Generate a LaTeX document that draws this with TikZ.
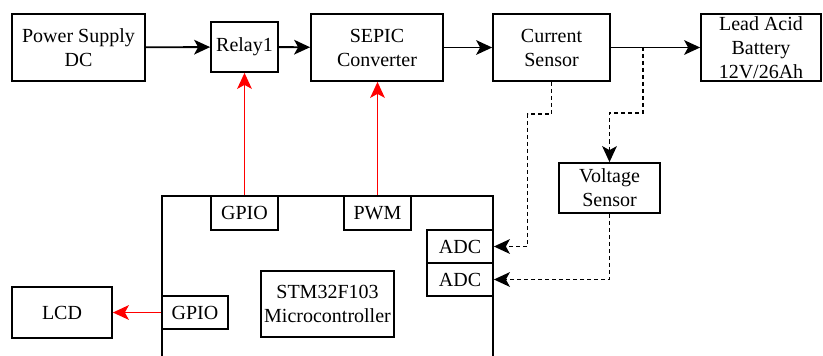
\documentclass[tikz,border=0pt]{standalone}
\usepackage{fontspec}
\setmainfont{Liberation Serif}
\usepackage{tikz}
\usetikzlibrary{arrows.meta}

\begin{document}
\begin{tikzpicture}[x=0.75pt, y=-0.75pt,
					arr/.style={-{Stealth[length=12pt, width=11pt, inset=3pt]}},
					blk/.style={draw, line width=1.3pt, align=center, inner sep=0pt,
						font=\fontsize{15}{18}\selectfont},
					flow/.style={arr, line width=1.4pt},
					sig/.style={arr, line width=1.3pt, red},
					meas/.style={arr, line width=1.3pt, dash pattern=on 3pt off 2.25pt}]

	\useasboundingbox (0,0) rectangle (823,356);

	% power path
	\node[blk, minimum width=99.75pt, minimum height=50.25pt] (psu) at (78.5,47.5) {Power Supply\\DC};
	\node[blk, minimum width=50.25pt, minimum height=37.5pt] (relay) at (244.5,47) {Relay1};
	\node[blk, minimum width=99pt, minimum height=50.25pt] (sepic) at (377,47.5) {SEPIC\\Converter};
	\node[blk, minimum width=87.75pt, minimum height=50.25pt] (isens) at (551.5,47.5) {Current\\Sensor};
	\node[blk, minimum width=90pt, minimum height=50.25pt] (batt) at (761,47.5) {Lead Acid\\Battery\\12V/26Ah};
	\node[blk, minimum width=75.75pt, minimum height=37.5pt] (vsens) at (609.5,188) {Voltage\\Sensor};

	% controller and its pins
	\node[blk, minimum width=248.25pt, minimum height=135pt] (mcu) at (327.5,286) {};
	\node[blk, minimum width=50.25pt, minimum height=25.5pt] (gpio1) at (244.5,213) {GPIO};
	\node[blk, minimum width=50.25pt, minimum height=25.5pt] (pwm) at (377.5,213) {PWM};
	\node[blk, minimum width=49.5pt, minimum height=24.75pt] (adc1) at (460,246.5) {ADC};
	\node[blk, minimum width=49.5pt, minimum height=24.75pt] (adc2) at (460,279.5) {ADC};
	\node[blk, minimum width=99.75pt, minimum height=49.5pt] (stm) at (327.5,304) {STM32F103\\Microcontroller};
	\node[blk, minimum width=49.5pt, minimum height=24.75pt] (gpio2) at (195,312.5) {GPIO};
	\node[blk, minimum width=75pt, minimum height=38.25pt] (lcd) at (62,312.5) {LCD};

	\coordinate (tap) at (643,47);

	\draw[flow] (psu) -- (relay);
	\draw[flow] (relay) -- (sepic);
	\draw[flow] (sepic) -- (isens);
	\draw[flow] (isens) -- (batt);

	\draw[sig] (gpio1) -- (relay);
	\draw[sig] (pwm) -- (sepic.south -| pwm);
	\draw[sig] (gpio2.west) -- (lcd);

	\draw[meas] (tap) -- ++(0,66) -| (vsens.north);
	\draw[meas] (isens.south) |- ++(-24,32) |- (adc1.east);
	\draw[meas] (vsens.south) |- (adc2.east);
\end{tikzpicture}
\end{document}
